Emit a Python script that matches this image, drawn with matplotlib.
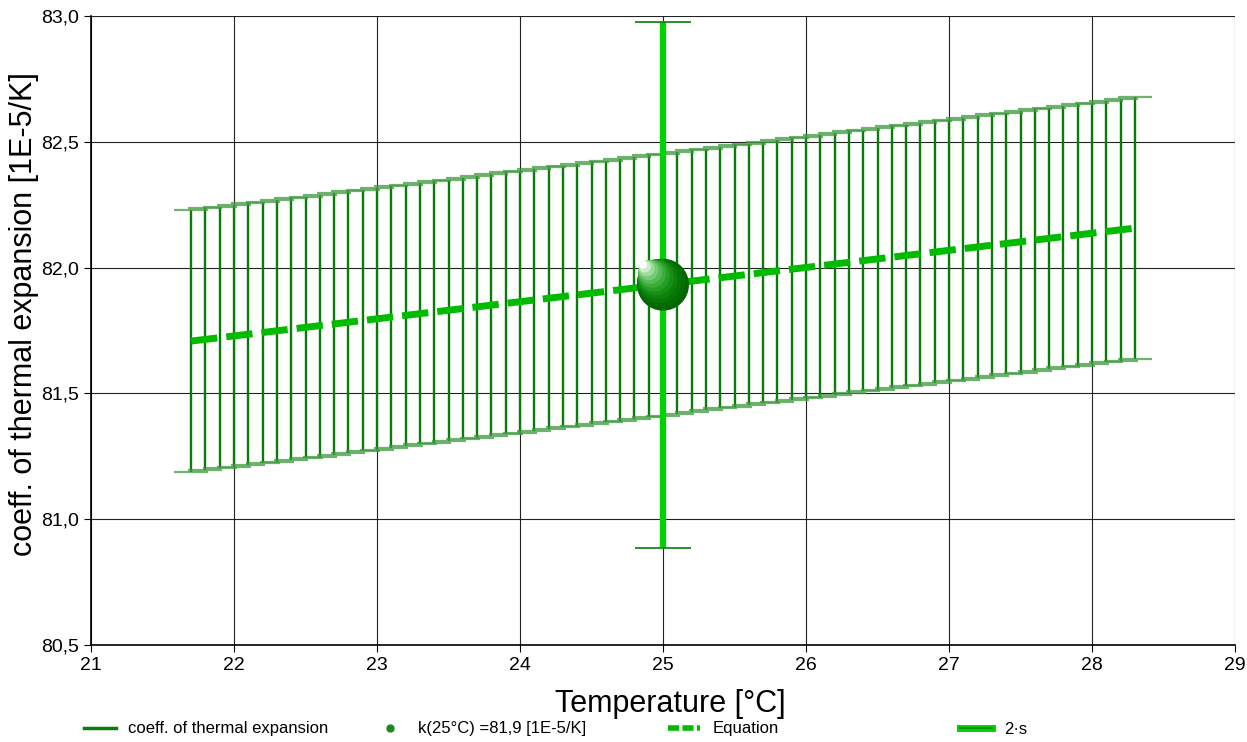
import numpy as np
import matplotlib
matplotlib.use("Agg")
import matplotlib.pyplot as plt
from matplotlib.lines import Line2D
from matplotlib.ticker import FuncFormatter, MultipleLocator
from matplotlib import transforms

plt.rcParams['font.family'] = ['Liberation Sans', 'DejaVu Sans']

# temperatures of the confidence bars [°C]
temps = [21.7, 21.8, 21.9, 22.0, 22.1, 22.2, 22.3, 22.4, 22.5, 22.6,
         22.7, 22.8, 22.9, 23.0, 23.1, 23.2, 23.3, 23.4, 23.5, 23.6,
         23.7, 23.8, 23.9, 24.0, 24.1, 24.2, 24.3, 24.4, 24.5, 24.6,
         24.7, 24.8, 24.9, 25.0, 25.1, 25.2, 25.3, 25.4, 25.5, 25.6,
         25.7, 25.8, 25.9, 26.0, 26.1, 26.2, 26.3, 26.4, 26.5, 26.6,
         26.7, 26.8, 26.9, 27.0, 27.1, 27.2, 27.3, 27.4, 27.5, 27.6,
         27.7, 27.8, 27.9, 28.0, 28.1, 28.2, 28.3]
# coeff. of thermal expansion at those temperatures [1E-5/K]
coeff = [81.708, 81.715, 81.722, 81.728, 81.735, 81.742, 81.749, 81.756, 81.762, 81.769,
         81.776, 81.783, 81.790, 81.796, 81.803, 81.810, 81.817, 81.824, 81.830, 81.837,
         81.844, 81.851, 81.858, 81.864, 81.871, 81.878, 81.885, 81.892, 81.898, 81.905,
         81.912, 81.919, 81.926, 81.932, 81.939, 81.946, 81.953, 81.960, 81.966, 81.973,
         81.980, 81.987, 81.994, 82.000, 82.007, 82.014, 82.021, 82.028, 82.034, 82.041,
         82.048, 82.055, 82.062, 82.068, 82.075, 82.082, 82.089, 82.096, 82.102, 82.109,
         82.116, 82.123, 82.130, 82.136, 82.143, 82.150, 82.157]
band_halfwidth = 0.52

# equation line end points
eq_temps = [21.7, 28.3]
eq_values = [81.708, 82.157]

# reference point k(25°C) and its 2·s interval
ref_temp = 25.0
ref_value = 81.932
ref_2s = 1.045

W, H = 1247, 742
fig = plt.figure(figsize=(W / 100, H / 100), dpi=100)
ax = fig.add_axes([91 / W, 1 - 645 / H, (1235 - 91) / W, (645 - 16) / H])

dark_green = '#087c08'
bright_green = '#00d400'

# confidence bars
eb = ax.errorbar(temps, coeff, yerr=band_halfwidth, fmt='none', ecolor=dark_green,
                 elinewidth=1.7, capsize=12, capthick=1.6, zorder=3)
for c in eb[1]:
    c.set_markeredgecolor('#3f9a3f')
    c.set_alpha(0.75)

# 2·s of the reference point
eb2 = ax.errorbar([ref_temp], [ref_value], yerr=ref_2s, fmt='none', ecolor=bright_green,
                  elinewidth=4.5, capsize=20, capthick=1.3, zorder=4)
for c in eb2[1]:
    c.set_markeredgecolor('#1a861a')

# equation line
ax.plot(eq_temps, eq_values, color='#00bb00', lw=5, dashes=(3.8, 1.3),
        solid_capstyle='butt', dash_capstyle='butt', zorder=5)

# shaded sphere for k(25°C)
n_layers = 12
r0 = 37.4
for k in range(n_layers):
    f = k / (n_layers - 1)
    r = r0 * (1 - 0.85 * f)
    shift = (r0 - r) * 0.45
    tr = transforms.offset_copy(ax.transData, fig=fig, x=-shift, y=shift, units='points')
    col = (min(1, 0.01 + f ** 2.5), min(1, 0.40 + 0.60 * f ** 1.3), min(1, 0.01 + f ** 2.5))
    ax.scatter([ref_temp], [ref_value], s=r ** 2, color=col, edgecolors='none',
               transform=tr, zorder=6 + k)

ax.set_xlim(21, 29)
ax.set_ylim(80.5, 83.0)
ax.xaxis.set_major_locator(MultipleLocator(1))
ax.yaxis.set_major_locator(MultipleLocator(0.5))
ax.yaxis.set_major_formatter(FuncFormatter(lambda v, p: f"{v:.1f}".replace('.', ',')))
ax.grid(True, color='#222222', lw=0.8)
ax.set_axisbelow(True)
for s in ['top', 'right']:
    ax.spines[s].set_visible(False)
for s in ['left', 'bottom']:
    ax.spines[s].set_linewidth(1.2)
ax.tick_params(direction='out', length=5, width=0.8, labelsize=14, pad=4)

ax.set_xlabel('Temperature [°C]', fontsize=22, va='center', ha='center')
ax.set_ylabel('coeff. of thermal expansion [1E-5/K]', fontsize=22, va='center', ha='center')
ax.xaxis.set_label_coords((670 - 91) / 1144, (645 - 704) / 629)
ax.yaxis.set_label_coords((24 - 91) / 1144, (645 - 314) / 629)

# legend row
ly = 1 - 729 / H
entries = [
    (Line2D([], [], color='#0a7d0a', lw=2.5), 'coeff. of thermal expansion', 84),
    (Line2D([], [], ls='none', marker='o', ms=5, color='#1a8a1a'), 'k(25°C) =81,9 [1E-5/K]', 374),
    (Line2D([], [], color='#00bb00', lw=4, dashes=(2, 0.6)), 'Equation', 668),
    ((Line2D([], [], color=bright_green, lw=5), Line2D([], [], color='#1a7a1a', lw=1.2)), '2·s', 960),
]
for h, lab, x0 in entries:
    fig.legend(handles=[h], labels=[lab], loc='center left', bbox_to_anchor=(x0 / W, ly),
               frameon=False, fontsize=12, handlelength=1.9, handletextpad=0.75,
               borderpad=0, borderaxespad=0)

fig.savefig('out.png', dpi=100)
